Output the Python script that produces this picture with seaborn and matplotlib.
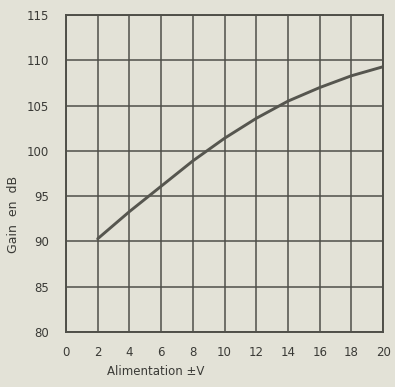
import matplotlib
matplotlib.use("Agg")
import matplotlib.pyplot as plt
import seaborn as sns
import pandas as pd

# Gain of the amplifier as a function of supply voltage
supply_v = [2, 4, 6, 8, 10, 12, 14, 16, 18, 20]
gain_db = [90.3, 93.3, 96.1, 98.9, 101.4, 103.6, 105.5, 107.0, 108.3, 109.3]

x_ticks = [0, 2, 4, 6, 8, 10, 12, 14, 16, 18, 20]
y_ticks = [80, 85, 90, 95, 100, 105, 110, 115]
y_tick_labels = ["80", "85", "90", "95", "100", "105", "110", "115"]

paper = "#e3e2d7"
ink = "#4f4f49"

sns.set_theme(style="white")
plt.rcParams["font.family"] = ["DejaVu Sans"]

df = pd.DataFrame({"V": supply_v, "G": gain_db})

fig = plt.figure(figsize=(3.95, 3.87), dpi=100, facecolor=paper)
ax = fig.add_axes([0.167, 0.142, 0.803, 0.819])
ax.set_facecolor(paper)

sns.lineplot(data=df, x="V", y="G", ax=ax, color="#56564f", linewidth=2.1)

ax.set_xlim(0, 20)
ax.set_ylim(80, 115)
ax.set_xticks(x_ticks)
ax.set_yticks(y_ticks)
ax.set_yticklabels(y_tick_labels)
ax.grid(True, color=ink, linewidth=1.1)
ax.tick_params(axis="both", length=0, labelsize=8.5, colors="#3a3a36")
ax.tick_params(axis="y", pad=12)
ax.tick_params(axis="x", pad=10)
for s in ax.spines.values():
    s.set_visible(True)
    s.set_color(ink)
    s.set_linewidth(1.4)

ax.set_xlabel("")
ax.set_ylabel("")
fig.text(0.395, 0.022, "Alimentation \u00b1V", fontsize=8.5, color="#3a3a36",
         ha="center", va="bottom")
fig.text(0.035, 0.445, "Gain  en  dB", fontsize=9, color="#3a3a36",
         rotation=90, ha="center", va="center")

fig.savefig("out.png", dpi=100, facecolor=paper)
